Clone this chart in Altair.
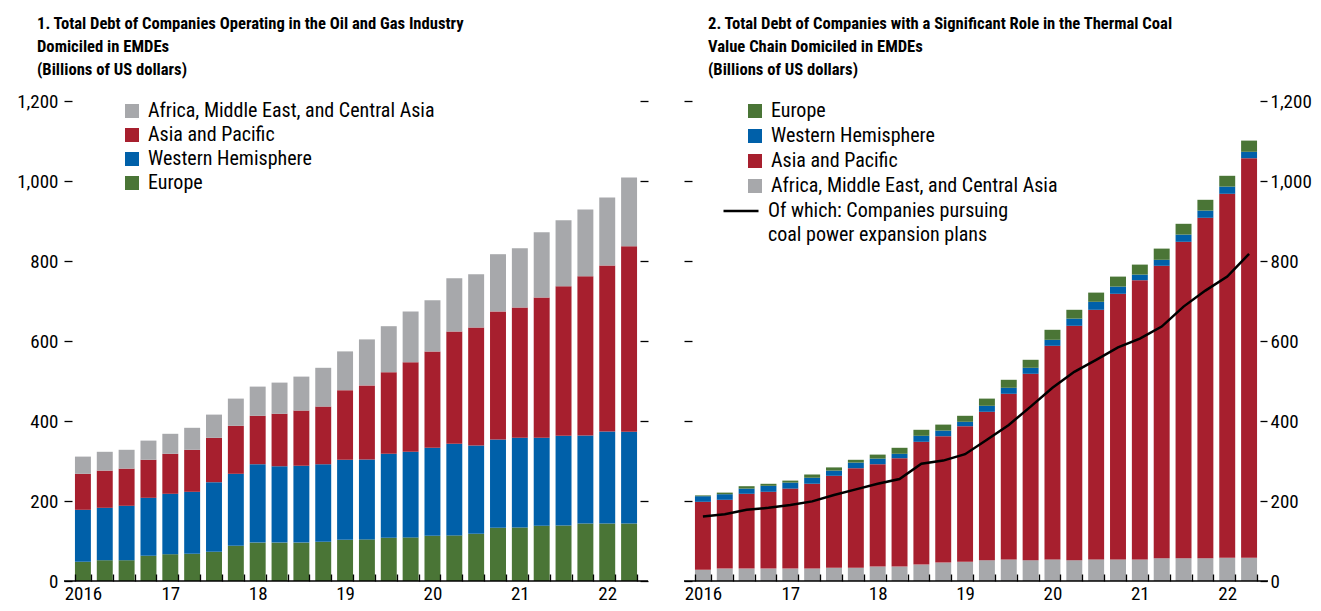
import altair as alt
import pandas as pd

# ---------------- data ----------------
quarters = ["2016Q1", "2016Q2", "2016Q3", "2016Q4", "2017Q1", "2017Q2", "2017Q3", "2017Q4",
            "2018Q1", "2018Q2", "2018Q3", "2018Q4", "2019Q1", "2019Q2", "2019Q3", "2019Q4",
            "2020Q1", "2020Q2", "2020Q3", "2020Q4", "2021Q1", "2021Q2", "2021Q3", "2021Q4",
            "2022Q1", "2022Q2"]

# Panel 1: oil and gas (billions of US dollars)
oil_europe = [48, 52, 52, 63, 67, 68, 73, 88, 96, 96, 96, 98, 103, 104, 108, 109, 113, 114, 118, 133,
              134, 138, 139, 144, 144, 144]
oil_western_hemisphere = [130, 131, 136, 145, 151, 155, 174, 180, 196, 191, 192, 194, 200, 200, 210, 214,
                          220, 229, 221, 221, 224, 220, 224, 220, 230, 229]
oil_asia_pacific = [90, 93, 93, 95, 100, 105, 111, 120, 121, 131, 138, 144, 174, 185, 204, 224, 241, 281,
                    295, 320, 326, 351, 374, 398, 415, 464]
oil_africa_me_ca = [43, 47, 47, 48, 50, 55, 58, 68, 73, 78, 85, 97, 97, 115, 115, 127, 128, 133, 133, 143,
                    148, 163, 165, 167, 170, 172]

# Panel 2: thermal coal (billions of US dollars)
coal_africa_me_ca = [28, 31, 31, 31, 31, 31, 33, 33, 36, 36, 41, 46, 48, 52, 54, 52, 54, 52, 54, 54, 54,
                     57, 57, 57, 58, 58]
coal_asia_pacific = [170, 172, 187, 192, 200, 212, 230, 249, 256, 271, 307, 316, 339, 371, 414, 466, 534,
                     586, 624, 664, 698, 731, 791, 851, 910, 999]
coal_western_hemisphere = [14, 14, 13, 15, 15, 15, 13, 14, 14, 11, 15, 14, 11, 15, 15, 15, 15, 18, 20, 18,
                           14, 15, 18, 18, 18, 16]
coal_europe = [2, 4, 6, 5, 5, 8, 8, 7, 10, 15, 15, 15, 15, 18, 20, 20, 25, 22, 23, 25, 25, 28, 27, 27, 27, 28]
coal_expansion = [161, 167, 178, 183, 190, 199, 215, 229, 243, 255, 293, 301, 317, 353, 390, 436, 483, 523,
                  553, 584, 606, 636, 686, 726, 761, 818]

AMECA = "Africa, Middle East, and Central Asia"
AP = "Asia and Pacific"
WH = "Western Hemisphere"
EU = "Europe"
LINE1 = "Of which: Companies pursuing"
LINE2 = "coal power expansion plans"

GRAY, RED, BLUE, GREEN = "#A7A8AB", "#A71F2E", "#0060A9", "#4A7536"

y_ticks = [0, 200, 400, 600, 800, 1000, 1200]

FONT = "Roboto Condensed, DejaVu Sans Condensed, sans-serif"
NB = "\u00a0" * 4


def long_df(series):
    rows = []
    for k, (name, vals) in enumerate(series):
        for q, v in zip(quarters, vals):
            rows.append({"q": q, "region": name, "value": v, "stack": k})
    return pd.DataFrame(rows)


oil_df = long_df([(EU, oil_europe), (WH, oil_western_hemisphere), (AP, oil_asia_pacific),
                  (AMECA, oil_africa_me_ca)])
coal_df = long_df([(AMECA, coal_africa_me_ca), (AP, coal_asia_pacific), (WH, coal_western_hemisphere),
                   (EU, coal_europe)])
line_df = pd.DataFrame({"q": quarters, "value": coal_expansion, "series": LINE1})
base_df = pd.DataFrame({"v": [0]})

W, H = 568, 480
LABEL_EXPR = ("indexof('' + datum.value, 'Q1') >= 0 ? (slice('' + datum.value, 0, 4) == '2016' ? '2016' : "
              "slice('' + datum.value, 2, 4)) : ''")

x_scale = alt.Scale(paddingInner=0.27, paddingOuter=0.135)
y_scale = alt.Scale(domain=[0, 1200], nice=False)

x_axis = alt.Axis(title=None, tickBand="extent", labelExpr=LABEL_EXPR, domain=False, offset=-7,
                  tickSize=7, tickWidth=1.3, labelPadding=3, labelAngle=0, labelFontSize=19,
                  labelOverlap=False, zindex=1, grid=False)


def x_enc():
    return alt.X("q:N", sort=quarters, scale=x_scale, axis=x_axis)


def y_axis(orient, labels):
    if labels:
        return alt.Axis(orient=orient, values=y_ticks, format=",d", tickSize=8, tickWidth=1.3,
                        labelPadding=6, labelFontSize=19, domain=False, grid=False, title=None,
                        minExtent=64, maxExtent=64)
    return alt.Axis(orient=orient, values=y_ticks, labels=False, tickSize=8, tickWidth=1.3,
                    domain=False, grid=False, title=None, minExtent=8, maxExtent=8)


def baseline():
    return alt.Chart(base_df).mark_rule(color="black", strokeWidth=1.5).encode(
        y=alt.Y("v:Q", scale=y_scale, axis=None),
        x=alt.value(-8), x2=alt.value(W + 8))


def title(lines, dx):
    return alt.TitleParams(text=lines, anchor="start", frame="group", dx=dx, fontSize=16.6,
                           font=FONT, fontWeight="bold", lineHeight=23, offset=13, color="black")


def color_legend(x, y, row_pad):
    return alt.Legend(orient="none", title=None, legendX=x, legendY=y, symbolType="square",
                      symbolSize=196, symbolStrokeWidth=0, labelFontSize=20, labelFont=FONT,
                      labelLimit=500, labelOffset=6, rowPadding=row_pad, padding=0, offset=0)


# ---------------- panel 1 ----------------
oil_bars = alt.Chart(oil_df).mark_bar().encode(
    x=x_enc(),
    y=alt.Y("value:Q", stack="zero", scale=y_scale, axis=y_axis("left", True)),
    color=alt.Color("region:N",
                    scale=alt.Scale(domain=[AMECA, AP, WH, EU], range=[GRAY, RED, BLUE, GREEN]),
                    legend=color_legend(50, 0, 4)),
    order=alt.Order("stack:Q"),
)
oil_right = alt.Chart(oil_df).mark_bar(opacity=0).encode(
    x=x_enc(),
    y=alt.Y("value:Q", stack="zero", scale=y_scale, axis=y_axis("right", False)),
    order=alt.Order("stack:Q"),
)
left = alt.layer(oil_bars, oil_right, baseline()).resolve_axis(y="independent").properties(
    width=W, height=H,
    title=title(["1. Total Debt of Companies Operating in the Oil and Gas Industry",
                 NB + "Domiciled in EMDEs", NB + "(Billions of US dollars)"], -35))

# ---------------- panel 2 ----------------
coal_bars = alt.Chart(coal_df).mark_bar().encode(
    x=x_enc(),
    y=alt.Y("value:Q", stack="zero", scale=y_scale, axis=y_axis("left", False)),
    color=alt.Color("region:N",
                    scale=alt.Scale(domain=[EU, WH, AP, AMECA], range=[GREEN, BLUE, RED, GRAY]),
                    legend=color_legend(53, 0, 5)),
    order=alt.Order("stack:Q"),
)
coal_line = alt.Chart(line_df).mark_line(strokeWidth=2.5).encode(
    x=x_enc(),
    y=alt.Y("value:Q", scale=y_scale,
            axis=alt.Axis(orient="right", values=y_ticks, format=",d", tickSize=7, tickWidth=1.3,
                          labelPadding=3, labelFontSize=19, domain=False, grid=False, title=None)),
    stroke=alt.Stroke("series:N", scale=alt.Scale(domain=[LINE1, LINE2], range=["black", "transparent"]),
                      legend=alt.Legend(orient="none", title=None, legendX=39, legendY=100,
                                        symbolType="M-2.5,0H2.5", symbolSize=196, symbolStrokeWidth=2.5,
                                        labelFontSize=20, labelFont=FONT, labelLimit=500, labelOffset=17,
                                        rowPadding=4, padding=0, offset=0)),
)
right = alt.layer(coal_bars, coal_line, baseline()).resolve_axis(y="independent").properties(
    width=W, height=H,
    title=title(["2. Total Debt of Companies with a Significant Role in the Thermal Coal",
                 NB + "Value Chain Domiciled in EMDEs", NB + "(Billions of US dollars)"], 16))

chart = alt.hconcat(left, right, spacing=34).resolve_scale(
    color="independent", stroke="independent"
).properties(
    padding={"left": 0, "top": 8, "right": 0, "bottom": 0}
).configure_view(stroke=None).configure_axis(
    labelFont=FONT, labelColor="black", tickColor="black"
).configure_legend(labelColor="black")

chart.save("out.html", embed_options={"renderer": "svg", "actions": False})
